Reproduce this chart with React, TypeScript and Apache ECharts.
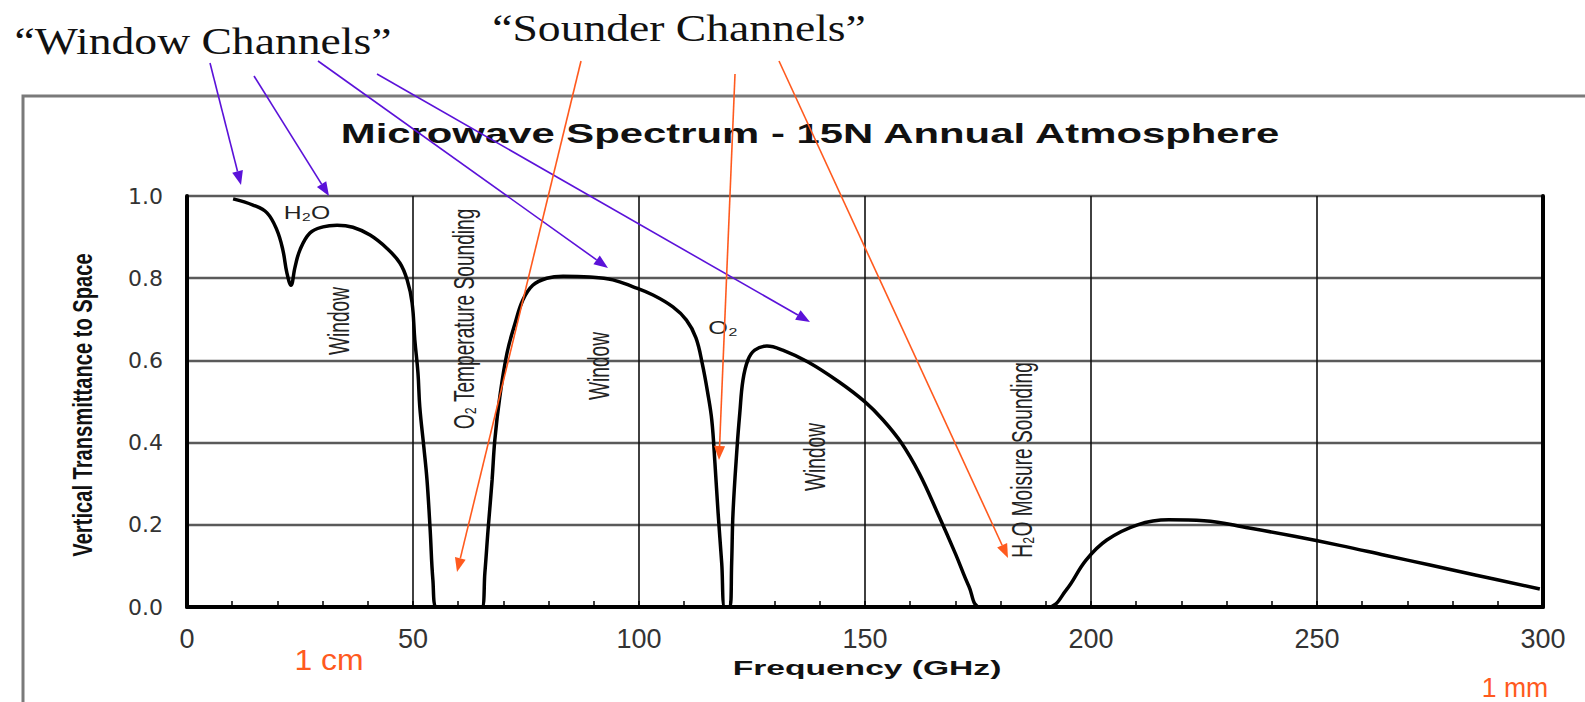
import React, { useEffect, useRef } from "react";
import * as echarts from "echarts";

const freqGHz = [
  10.2, 14.6, 17.7, 19.9, 21.2, 22.1, 23.0, 23.9, 25.0, 27.2, 30.1, 33.2, 36.7, 40.5, 44.2, 47.1,
  48.7, 49.8, 50.4, 51.1, 51.5, 52.4, 53.1, 53.8, 54.4, 55.2, 65.2, 65.9, 66.6, 67.5, 68.1, 69.2,
  70.8, 72.6, 74.3, 76.5, 79.6, 83.2, 89.1, 94.2, 98.7, 103.1, 107.5, 110.5, 112.6, 114.0, 115.2,
  116.1, 116.8, 117.5, 118.3, 119.0, 120.1, 120.5, 120.8, 121.7, 122.3, 123.0, 124.1, 125.6, 128.3,
  131.8, 137.4, 144.2, 150.0, 154.0, 158.0, 162.0, 166.0, 170.0, 173.0, 175.5, 190.5, 194.5, 198.9,
  203.5, 210.3, 217.2, 225.0, 235.0, 245.0, 255.0, 265.0, 275.0, 285.0, 299.3,
];
const transmittance = [
  0.993, 0.978, 0.959, 0.917, 0.869, 0.813, 0.783, 0.827, 0.869, 0.91, 0.925, 0.929, 0.924, 0.905, 0.873, 0.837,
  0.796, 0.74, 0.65, 0.569, 0.487, 0.389, 0.309, 0.187, 0.066, 0.0, 0.0, 0.083, 0.187, 0.309, 0.406, 0.511,
  0.618, 0.691, 0.747, 0.783, 0.8, 0.805, 0.803, 0.796, 0.779, 0.759, 0.73, 0.698, 0.655, 0.592, 0.521,
  0.455, 0.35, 0.229, 0.107, 0.0, 0.0, 0.107, 0.229, 0.389, 0.472, 0.552, 0.601, 0.625, 0.635,
  0.625, 0.596, 0.548, 0.499, 0.455, 0.4, 0.325, 0.23, 0.13, 0.05, 0.0, 0.0, 0.041, 0.114,
  0.163, 0.2, 0.212, 0.21, 0.192, 0.172, 0.15, 0.126, 0.102, 0.078, 0.044,
];

const titleText = "Microwave Spectrum - 15N Annual Atmosphere";
const xAxisTitle = "Frequency (GHz)";
const yAxisTitle = "Vertical Transmittance to Space";
const bandLabels = ["Window", "O₂ Temperature Sounding", "Window", "Window", "H₂O Moisure Sounding"];
const lineLabels = ["H₂O", "O₂"];
const headerLabels = ["“Window Channels”", "“Sounder Channels”"];
const wavelengthLabels = ["1 cm", "1 mm"];

const PURPLE = "#5b12d9";
const ORANGE = "#ff5a1e";

function arrow(x1: number, y1: number, x2: number, y2: number, color: string) {
  const a = Math.atan2(y2 - y1, x2 - x1);
  const L = 14;
  const W = 5.5;
  const c = Math.cos(a);
  const s = Math.sin(a);
  const bx = x2 - L * c;
  const by = y2 - L * s;
  return [
    {
      type: "line",
      z: 100,
      shape: { x1, y1, x2: bx, y2: by },
      style: { stroke: color, lineWidth: 1.6 },
    },
    {
      type: "polygon",
      z: 100,
      shape: {
        points: [
          [x2, y2],
          [bx - W * s, by + W * c],
          [bx + W * s, by - W * c],
        ],
      },
      style: { fill: color },
    },
  ];
}

export default function App() {
  const ref = useRef<HTMLDivElement>(null);

  useEffect(() => {
    document.body.style.margin = "0";
    const chart = echarts.init(ref.current!, null, { renderer: "svg" });

    const sans = "'Liberation Sans', Arial, 'DejaVu Sans', sans-serif";
    const serif = "'Liberation Serif', 'Times New Roman', serif";

    const rotLabel = (text: string, x: number, y: number) => ({
      type: "text",
      z: 50,
      x,
      y,
      rotation: Math.PI / 2,
      scaleX: 0.66,
      style: {
        text,
        fontFamily: sans,
        fontSize: 29,
        fill: "#222",
        align: "center",
        verticalAlign: "middle",
      },
    });

    const graphics: any[] = [
      {
        type: "polyline",
        z: 1,
        shape: { points: [[23, 702], [23, 96], [1585, 96]] },
        style: { stroke: "#7a7a7a", lineWidth: 3, fill: null },
      },
      {
        type: "text",
        x: 810,
        y: 133,
        scaleX: 1.55,
        style: {
          text: titleText,
          fontFamily: sans,
          fontWeight: "bold",
          fontSize: 27,
          fill: "#111",
          align: "center",
          verticalAlign: "middle",
        },
      },
      {
        type: "text",
        x: 867,
        y: 668,
        scaleX: 1.6,
        style: {
          text: xAxisTitle,
          fontFamily: sans,
          fontWeight: "bold",
          fontSize: 21,
          fill: "#111",
          align: "center",
          verticalAlign: "middle",
        },
      },
      {
        type: "text",
        x: 82,
        y: 405,
        rotation: Math.PI / 2,
        scaleX: 0.72,
        style: {
          text: yAxisTitle,
          fontFamily: sans,
          fontWeight: "bold",
          fontSize: 28,
          fill: "#111",
          align: "center",
          verticalAlign: "middle",
        },
      },
      rotLabel(bandLabels[0], 339, 321),
      rotLabel(bandLabels[1], 464, 319),
      rotLabel(bandLabels[2], 599, 366),
      rotLabel(bandLabels[3], 815, 457),
      rotLabel(bandLabels[4], 1022, 460),
      {
        type: "text",
        z: 50,
        x: 307,
        y: 213,
        scaleX: 1.3,
        style: {
          text: lineLabels[0],
          fontFamily: sans,
          fontSize: 19,
          fill: "#222",
          align: "center",
          verticalAlign: "middle",
        },
      },
      {
        type: "text",
        z: 50,
        x: 723,
        y: 328,
        scaleX: 1.4,
        style: {
          text: lineLabels[1],
          fontFamily: sans,
          fontSize: 18,
          fill: "#222",
          align: "center",
          verticalAlign: "middle",
        },
      },
      {
        type: "text",
        x: 203,
        y: 41,
        scaleX: 1.2,
        style: {
          text: headerLabels[0],
          fontFamily: serif,
          fontSize: 38,
          fill: "#111",
          align: "center",
          verticalAlign: "middle",
        },
      },
      {
        type: "text",
        x: 679,
        y: 28,
        scaleX: 1.2,
        style: {
          text: headerLabels[1],
          fontFamily: serif,
          fontSize: 38,
          fill: "#111",
          align: "center",
          verticalAlign: "middle",
        },
      },
      {
        type: "text",
        x: 329,
        y: 660,
        scaleX: 1.1,
        style: {
          text: wavelengthLabels[0],
          fontFamily: sans,
          fontSize: 29,
          fill: ORANGE,
          align: "center",
          verticalAlign: "middle",
        },
      },
      {
        type: "text",
        x: 1515,
        y: 687,
        scaleX: 0.95,
        style: {
          text: wavelengthLabels[1],
          fontFamily: sans,
          fontSize: 28,
          fill: ORANGE,
          align: "center",
          verticalAlign: "middle",
        },
      },
      ...arrow(210, 63, 241, 185, PURPLE),
      ...arrow(254, 76, 329, 196, PURPLE),
      ...arrow(318, 61, 608, 268, PURPLE),
      ...arrow(377, 74, 810, 322, PURPLE),
      ...arrow(581, 61, 457, 572, ORANGE),
      ...arrow(735, 74, 719, 460, ORANGE),
      ...arrow(779, 61, 1008, 558, ORANGE),
    ];

    chart.setOption({
      animation: false,
      backgroundColor: "#fff",
      grid: {
        left: 187,
        top: 196,
        width: 1356,
        height: 411,
        show: true,
        borderColor: "#111",
        borderWidth: 2,
        backgroundColor: "#fff",
        containLabel: false,
        outerBoundsMode: "none",
      },
      xAxis: {
        type: "value",
        min: 0,
        max: 300,
        interval: 50,
        axisLine: { show: true, onZero: false, lineStyle: { color: "#000", width: 4 } },
        axisTick: { show: true, inside: true, length: 6, lineStyle: { color: "#000", width: 1.5 } },
        minorTick: { show: true, splitNumber: 5, length: 6, lineStyle: { color: "#000", width: 1.5 } },
        splitLine: { show: true, lineStyle: { color: "#111", width: 1.6 } },
        axisLabel: {
          margin: 18,
          fontSize: 27,
          fontFamily: sans,
          color: "#333",
        },
      },
      yAxis: [
        {
          type: "value",
          min: 0,
          max: 1,
          interval: 0.2,
          axisLine: { show: true, onZero: false, lineStyle: { color: "#000", width: 4 } },
          axisTick: { show: false },
          splitLine: { show: true, lineStyle: { color: "#5a5a5a", width: 2.4 } },
          axisLabel: {
            margin: 24,
            fontSize: 22,
            fontFamily: "'DejaVu Sans', sans-serif",
            color: "#333",
            formatter: (v: number) => v.toFixed(1),
          },
        },
        {
          type: "value",
          position: "right",
          min: 0,
          max: 1,
          interval: 0.2,
          axisLine: { show: true, onZero: false, lineStyle: { color: "#000", width: 4 } },
          axisTick: { show: false },
          axisLabel: { show: false },
          splitLine: { show: false },
        },
      ],
      series: [
        {
          type: "line",
          data: freqGHz.map((f, i) => [f, transmittance[i]]),
          showSymbol: false,
          smooth: 0.4,
          lineStyle: { color: "#000", width: 3.5 },
          z: 10,
        },
      ],
      graphic: graphics,
    });

    return () => chart.dispose();
  }, []);

  return <div ref={ref} style={{ width: 1585, height: 702 }} />;
}
